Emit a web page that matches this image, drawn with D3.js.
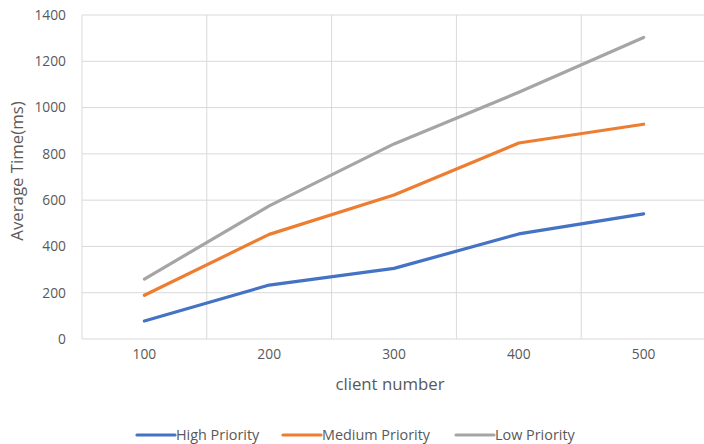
<!DOCTYPE html>
<html>
<head>
<meta charset="utf-8">
<script src="https://cdn.jsdelivr.net/npm/d3@7"></script>
<style>
  html, body { margin: 0; padding: 0; background: #fff; }
  svg { display: block; font-family: "Open Sans", Lato, sans-serif; }
</style>
</head>
<body>
<svg id="chart" width="704" height="444"></svg>
<script>
const categories = ["100", "200", "300", "400", "500"];
const highPriority = [78, 233, 305, 454, 541];
const mediumPriority = [189, 452, 622, 847, 928];
const lowPriority = [259, 575, 843, 1066, 1303];
const yTicks = [0, 200, 400, 600, 800, 1000, 1200, 1400];
const seriesNames = ["High Priority", "Medium Priority", "Low Priority"];
const seriesColors = ["#4472C4", "#ED7D31", "#A5A5A5"];

const series = [highPriority, mediumPriority, lowPriority].map((values, i) => ({
  name: seriesNames[i], color: seriesColors[i], values
}));

const FONT = "'Open Sans', Lato, sans-serif";
const svg = d3.select("#chart");
const plot = { left: 82, right: 706, top: 15, bottom: 339 };

const x = d3.scaleBand().domain(categories).range([plot.left, plot.right]);
const y = d3.scaleLinear().domain([0, 1400]).range([plot.bottom, plot.top]);

const grid = svg.append("g");
// horizontal gridlines
grid.selectAll("line.h").data(yTicks).join("line")
  .attr("x1", plot.left).attr("x2", plot.right)
  .attr("y1", d => y(d)).attr("y2", d => y(d))
  .attr("stroke", "#d9d9d9").attr("stroke-width", 1);
// vertical gridlines at category boundaries
const bounds = categories.map(c => x(c)).concat([plot.right]);
grid.selectAll("line.v").data(bounds).join("line")
  .attr("x1", d => d).attr("x2", d => d)
  .attr("y1", plot.top).attr("y2", plot.bottom)
  .attr("stroke", "#d9d9d9").attr("stroke-width", 1);

// y axis labels
const yAxis = svg.append("g").attr("transform", `translate(${plot.left},0)`)
  .call(d3.axisLeft(y).tickValues(yTicks).tickFormat(d3.format("d")).tickSize(0).tickPadding(16));
yAxis.select(".domain").remove();
yAxis.selectAll("text").attr("fill", "#595959").attr("font-size", 13.8)
  .attr("font-family", FONT);

// x axis labels
const xAxis = svg.append("g").attr("transform", `translate(0,${plot.bottom})`)
  .call(d3.axisBottom(x).tickSize(0).tickPadding(10));
xAxis.select(".domain").remove();
xAxis.selectAll("text").attr("fill", "#595959").attr("font-size", 13.8)
  .attr("font-family", FONT);

// axis titles
svg.append("text")
  .attr("transform", "translate(23,171) rotate(-90)")
  .attr("text-anchor", "middle").attr("fill", "#595959").attr("font-size", 16.8)
  .text("Average Time(ms)");
svg.append("text")
  .attr("x", 390).attr("y", 390)
  .attr("text-anchor", "middle").attr("fill", "#595959").attr("font-size", 16.8)
  .text("client number");

// lines
const line = d3.line()
  .x((d, i) => x(categories[i]) + x.bandwidth() / 2)
  .y(d => y(d));
svg.append("g").selectAll("path").data(series).join("path")
  .attr("d", d => line(d.values))
  .attr("fill", "none")
  .attr("stroke", d => d.color)
  .attr("stroke-width", 3.2)
  .attr("stroke-linecap", "round")
  .attr("stroke-linejoin", "round");

// legend
const legendX = [137, 283, 456];
const legend = svg.append("g").selectAll("g").data(series).join("g")
  .attr("transform", (d, i) => `translate(${legendX[i]},435)`);
legend.append("line")
  .attr("x1", 0).attr("x2", 38).attr("y1", 0).attr("y2", 0)
  .attr("stroke", d => d.color).attr("stroke-width", 3.2).attr("stroke-linecap", "round");
legend.append("text")
  .attr("x", 39).attr("y", 5)
  .attr("fill", "#595959").attr("font-size", 14.4)
  .text(d => d.name);
</script>
</body>
</html>
